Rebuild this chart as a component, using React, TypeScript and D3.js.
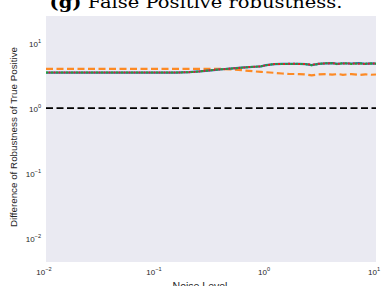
import React from 'react';
import * as d3 from 'd3';

// noise levels (x) and series values
const noise = [0.01, 0.013, 0.017, 0.022, 0.03, 0.04, 0.05, 0.065, 0.085, 0.11, 0.15, 0.2, 0.25, 0.3, 0.35, 0.4, 0.5, 0.6, 0.7, 0.8, 0.9, 1.0, 1.2, 1.4, 1.6, 1.8, 2.0, 2.3, 2.6, 3.0, 3.5, 4.0, 4.5, 5.0, 6.0, 7.0, 8.0, 9.0, 10.0];
const blue = [3.53, 3.53, 3.53, 3.53, 3.53, 3.53, 3.53, 3.53, 3.53, 3.53, 3.54, 3.58, 3.68, 3.8, 3.9, 3.98, 4.1, 4.2, 4.3, 4.35, 4.4, 4.6, 4.78, 4.8, 4.8, 4.82, 4.82, 4.78, 4.62, 4.82, 4.9, 4.95, 4.8, 4.92, 4.85, 4.95, 4.82, 4.9, 4.85];
const green = [3.53, 3.53, 3.53, 3.53, 3.53, 3.53, 3.53, 3.53, 3.53, 3.53, 3.54, 3.58, 3.68, 3.8, 3.9, 3.98, 4.1, 4.2, 4.3, 4.35, 4.42, 4.6, 4.78, 4.8, 4.8, 4.8, 4.82, 4.75, 4.6, 4.8, 4.92, 4.9, 4.75, 4.95, 4.8, 4.9, 4.85, 4.88, 4.85];
const red = [3.53, 3.53, 3.53, 3.53, 3.53, 3.53, 3.53, 3.53, 3.53, 3.53, 3.54, 3.58, 3.68, 3.8, 3.9, 3.98, 4.1, 4.2, 4.3, 4.35, 4.4, 4.6, 4.78, 4.8, 4.82, 4.82, 4.8, 4.8, 4.65, 4.85, 4.88, 4.92, 4.82, 4.88, 4.9, 4.85, 4.8, 4.92, 4.85];
const orange = [4.03, 4.03, 4.03, 4.03, 4.03, 4.03, 4.03, 4.03, 4.03, 4.03, 4.03, 4.03, 4.03, 4.03, 4.03, 4.02, 3.95, 3.85, 3.75, 3.68, 3.62, 3.58, 3.5, 3.42, 3.38, 3.36, 3.35, 3.3, 3.2, 3.32, 3.35, 3.28, 3.36, 3.27, 3.35, 3.25, 3.32, 3.27, 3.3];
const baseline = [1, 1];
const xTicks = [-2, -1, 0, 1];
const yTicks = [-2, -1, 0, 1];

const W = 381;
const H = 286;
const m = { left: 46, right: 376, top: 16, bottom: 262 };

const Pow = ({ exp, x, y, anchor }: { exp: number; x: number; y: number; anchor: string }) => (
  <text x={x} y={y} textAnchor={anchor} fontSize={8} fill="#262626" fontFamily="Liberation Sans, Arial, sans-serif">
    10<tspan fontSize={5.6} dy={-4}>{exp < 0 ? '\u2212' + Math.abs(exp) : exp}</tspan>
  </text>
);

export default function App() {
  const x = d3.scaleLog().domain([0.01, 10]).range([m.left, m.right]);
  const y = d3.scaleLog().domain([Math.pow(10, -2.37), Math.pow(10, 1.42)]).range([m.bottom, m.top]);

  const line = d3.line<number>().x((d, i) => x(noise[i])).y(d => y(d));
  const flat = d3.line<number>().x((d, i) => x(i === 0 ? 0.01 : 10)).y(d => y(d));

  return (
    <svg width={W} height={H} style={{ position: 'absolute', left: 0, top: 0 }}>
      <rect x={0} y={0} width={W} height={H} fill="#fff" />
      <text x={196} y={7.5} textAnchor="middle" fontSize={17} fontFamily="DejaVu Serif, serif" fill="#000" textLength={293} lengthAdjust="spacingAndGlyphs">
        <tspan fontWeight="bold">(g)</tspan> False Positive robustness.
      </text>
      <rect x={m.left} y={m.top} width={m.right - m.left} height={m.bottom - m.top} fill="#eaeaf2" />
      <g clipPath="url(#clip)">
        <path d={flat(baseline) || ''} fill="none" stroke="#000" strokeWidth={1.8} strokeDasharray="7,3.5" />
        <path d={line(orange) || ''} fill="none" stroke="#ff7f0e" strokeWidth={2.2} strokeOpacity={0.9} strokeDasharray="7,3.5" />
        <path d={line(blue) || ''} fill="none" stroke="#1f77b4" strokeWidth={2.2} />
        <path d={line(green) || ''} fill="none" stroke="#2ca02c" strokeWidth={2} strokeDasharray="2,3" />
        <path d={line(red) || ''} fill="none" stroke="#d62728" strokeWidth={2} strokeDasharray="2,3" strokeDashoffset={2.5} />
      </g>
      <defs>
        <clipPath id="clip">
          <rect x={m.left} y={m.top} width={m.right - m.left} height={m.bottom - m.top} />
        </clipPath>
      </defs>
      {yTicks.map(t => (
        <Pow key={'y' + t} exp={t} x={41} y={y(Math.pow(10, t)) + 4} anchor="end" />
      ))}
      {xTicks.map(t => (
        <Pow key={'x' + t} exp={t} x={x(Math.pow(10, t)) - 2} y={275} anchor="middle" />
      ))}
      <text transform={`translate(17,${(m.top + m.bottom) / 2 - 2}) rotate(-90)`} textAnchor="middle" fontSize={9.8} fill="#262626" fontFamily="Liberation Sans, Arial, sans-serif">
        Difference of Robustness of True Positive
      </text>
      <text x={200} y={290} textAnchor="middle" fontSize={10.5} fill="#262626" fontFamily="Liberation Sans, Arial, sans-serif">
        Noise Level
      </text>
    </svg>
  );
}
